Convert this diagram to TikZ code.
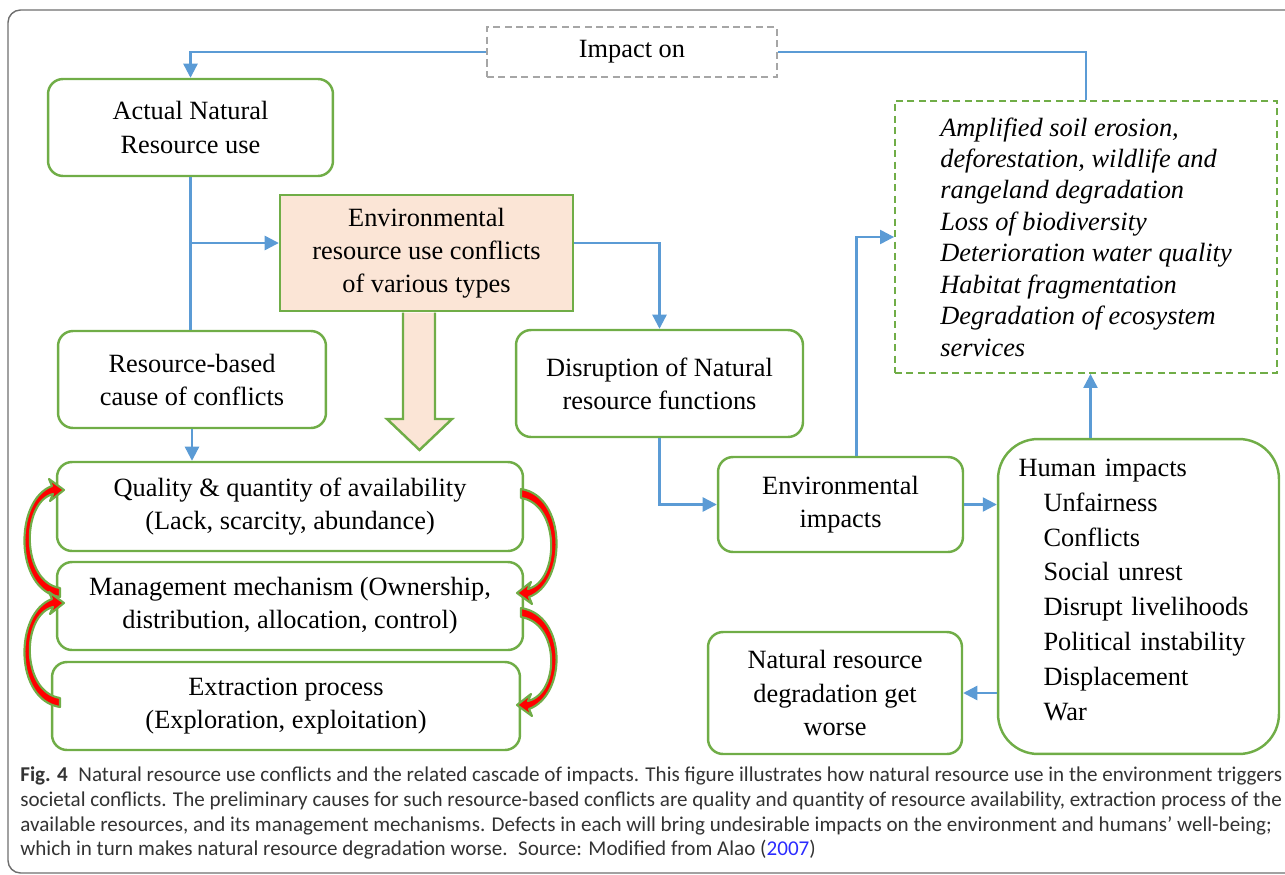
\documentclass[tikz,border=0pt]{standalone}
\usepackage{fontspec}
\setmainfont{Liberation Serif}
\newfontfamily\capfont{Carlito}
\usetikzlibrary{calc,arrows.meta}
\definecolor{boxgreen}{HTML}{70AD47}
\definecolor{lineblue}{HTML}{5B9BD5}
\definecolor{peach}{HTML}{FBE5D6}
\definecolor{dashgray}{HTML}{A6A6A6}
\definecolor{framegray}{HTML}{6E6E6E}
\definecolor{captext}{HTML}{333333}
\definecolor{citeblue}{HTML}{2B2BFF}
\newcommand\redloop[2]{\draw[loopred, #1] (2,5) .. controls (-44,-2) and (-44,{-#2+10}) .. (-6,{-#2-4}) -- (-9,{-#2-11}) -- (6,{-#2}) -- (-8,{-#2+11}) -- (-5,{-#2+4}) .. controls (-37,{-#2+12}) and (-37,-10) .. (2,-4) -- cycle;}

\begin{document}
\begin{tikzpicture}[x=0.02cm, y=-0.02cm,
		box/.style={draw=boxgreen, line width=1.4pt, rounded corners=0.3cm, align=center, inner sep=0pt, font=\fontsize{15}{18.8}\selectfont},
		dashbox/.style={box, rounded corners=0pt, line width=1.1pt, dash pattern=on 4pt off 2.5pt},
		flow/.style={draw=lineblue, line width=1.3pt, -{Triangle[length=8pt, width=8pt]}},
		link/.style={draw=lineblue, line width=1.3pt},
		loopred/.style={fill=red, draw=boxgreen, line width=1.2pt, line join=round}]
			%%%%% START %%%%%
			
			\useasboundingbox (0,0) rectangle (1285,875);
			\draw[framegray, line width=0.8pt, rounded corners=0.25cm] (8,10) rectangle (1310,873);
			
			\node[dashbox, draw=dashgray, minimum width=5.8cm, minimum height=1cm] (impact) at (632,52) {Impact on};
			\node[box, minimum width=5.7cm, minimum height=1.94cm] (actual) at (190.5,127.5) {Actual Natural\\Resource use};
			\node[box, fill=peach, rounded corners=0pt, minimum width=5.86cm, minimum height=2.32cm] (envconf) at (426.5,253) {Environmental\\resource use conflicts\\of various types};
			\node[box, minimum width=5.36cm, minimum height=1.94cm] (cause) at (192,379.5) {Resource-based\\cause of conflicts};
			\node[box, minimum width=5.74cm, minimum height=2.14cm] (disrupt) at (659.5,383.5) {Disruption of Natural\\resource functions};
			
			\node[box, minimum width=9.32cm, minimum height=1.78cm] (quality) at (290,506.5) {Quality \& quantity of availability\\(Lack, scarcity, abundance)};
			\node[box, minimum width=9.32cm, minimum height=1.76cm] (manage) at (290,606) {Management mechanism (Ownership,\\distribution, allocation, control)};
			\node[box, minimum width=9.36cm, minimum height=1.76cm] (extract) at (286,706) {Extraction process\\(Exploration, exploitation)};
			
			\node[box, minimum width=4.9cm, minimum height=1.9cm] (envimp) at (840.5,504.5) {Environmental\\impacts};
			\node[box, align=left, text width=4.8cm, text depth=5.15cm, rounded corners=0.8cm, minimum width=5.62cm, minimum height=6.3cm, font=\fontsize{15}{19.8}\selectfont] (human) at (1138.5,596.5) {Human impacts\\\hspace*{0.5cm}Unfairness\\\hspace*{0.5cm}Conflicts\\\hspace*{0.5cm}Social unrest\\\hspace*{0.5cm}Disrupt livelihoods\\\hspace*{0.5cm}Political instability\\\hspace*{0.5cm}Displacement\\\hspace*{0.5cm}War};
			\node[box, minimum width=5.08cm, minimum height=2.44cm] (worse) at (835,693) {Natural resource\\degradation get\\worse};
			\node[dashbox, align=left, minimum width=7.64cm, minimum height=5.44cm, font=\fontsize{15}{17.9}\selectfont\itshape] (effects) at (1086,237) {Amplified soil erosion,\\deforestation, wildlife and\\rangeland degradation\\Loss of biodiversity\\Deterioration water quality\\Habitat fragmentation\\Degradation of ecosystem\\services};
			
			% big arrow under the conflicts box
			\draw[boxgreen, fill=peach, line width=1.4pt] (403,312.5) -- (403,419) -- (387,419) -- (419.5,450) -- (452,419) -- (435,419) -- (435,312.5);
			
			% red loops between the three causes
			\redloop{shift={(58,592)}}{102}
			\redloop{shift={(58,702)}}{99}
			\redloop{shift={(523,494)}, xscale=-1, yscale=-1}{99}
			\redloop{shift={(523,613)}, xscale=-1, yscale=-1}{92}
			
			\coordinate (split) at ($(envconf.west)+(0,-10)$);
			\coordinate (confout) at ($(envconf.east)+(0,-10)$);
			\coordinate (envup) at ($(envimp.north)+(16,0)$);
			\coordinate (humup) at ($(human.north)+(-48,0)$);
			
			\draw[flow] (impact.west) -| (actual.north);
			\draw[link] (impact.east) -| (effects.north);
			\draw[link] (actual.south) -- (actual.south |- cause.north);
			\draw[flow] (split -| actual.south) -- (split);
			\draw[flow] (confout) -| (disrupt.north);
			\draw[flow] (cause.south) -- (cause.south |- quality.north);
			\draw[flow] (disrupt.south) |- (envimp.west);
			\draw[flow] (envup) |- (effects.west);
			\draw[flow] (envimp.east) -- (envimp.east -| human.west);
			\draw[flow] (humup) -- (humup |- effects.south);
			\draw[flow] (human.west |- worse.east) -- (worse.east);
			
			\node[anchor=north west, align=left, inner sep=0pt, text=captext, font=\capfont\fontsize{12}{14.2}\selectfont] (caption) at (20,766) {\textbf{Fig. 4}\enspace Natural resource use conflicts and the related cascade of impacts. This figure illustrates how natural resource use in the environment triggers\\societal conflicts. The preliminary causes for such resource-based conflicts are quality and quantity of resource availability, extraction process of the\\available resources, and its management mechanisms. Defects in each will bring undesirable impacts on the environment and humans’ well-being;\\which in turn makes natural resource degradation worse.\enspace Source: Modified from Alao (\textcolor{citeblue}{2007})};
			
			%%%%% END %%%%%
		\end{tikzpicture}
\end{document}
